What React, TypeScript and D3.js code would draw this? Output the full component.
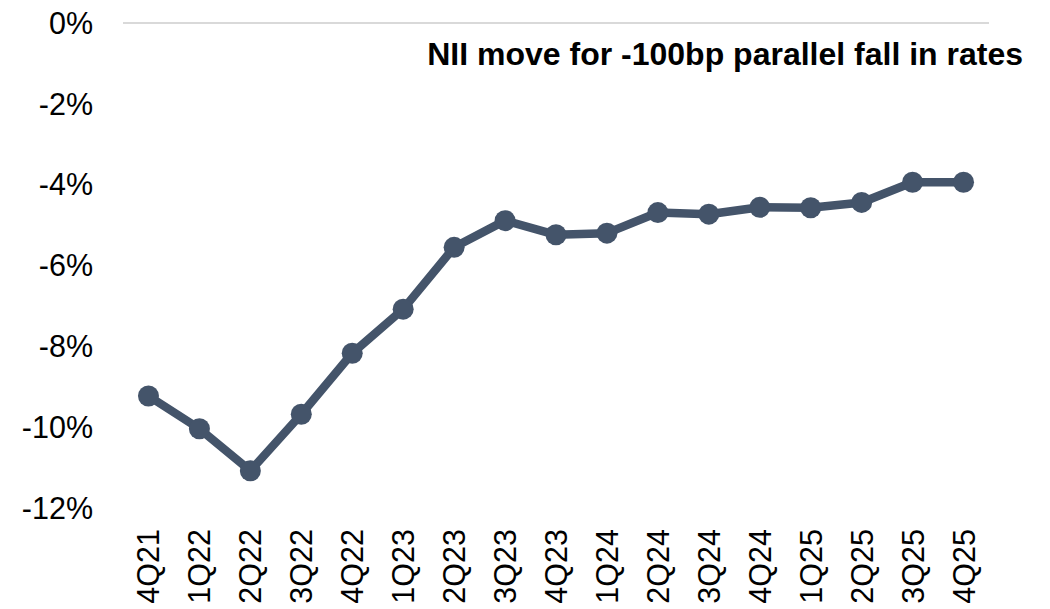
import React from "react";
import * as d3 from "d3";

const categories = ["4Q21","1Q22","2Q22","3Q22","4Q22","1Q23","2Q23","3Q23","4Q23","1Q24","2Q24","3Q24","4Q24","1Q25","2Q25","3Q25","4Q25"];
const niiMove = [-9.23,-10.04,-11.08,-9.68,-8.17,-7.08,-5.55,-4.89,-5.24,-5.20,-4.69,-4.73,-4.56,-4.57,-4.44,-3.94,-3.94];
const yTicks = [0,-2,-4,-6,-8,-10,-12];
const title = "NII move for -100bp parallel fall in rates";

const W = 1050, H = 609;
const left = 123, right = 989, top = 23, bottom = 508;
const color = "#44546A";
const font = "'Liberation Sans', Arial, sans-serif";

export default function App() {
  const x = d3.scaleBand<string>().domain(categories).range([left, right]);
  const y = d3.scaleLinear().domain([-12, 0]).range([bottom, top]);
  const cx = (c: string) => (x(c) as number) + x.bandwidth() / 2;
  const line = d3.line<number>().x((_, i) => cx(categories[i])).y((d) => y(d));

  return (
    <svg width={W} height={H} style={{ position: "absolute", left: 0, top: 0 }} fontFamily={font}>
      <line x1={left} x2={right} y1={y(0)} y2={y(0)} stroke="#D9D9D9" strokeWidth={2} />
      {yTicks.map((t) => (
        <text key={t} x={93} y={y(t)} dy="0.35em" textAnchor="end" fontSize={30.5} fill="#000">
          {t}%
        </text>
      ))}
      {categories.map((c) => (
        <text key={c} transform={`translate(${cx(c) + 11},${529}) rotate(-90)`} textAnchor="end" fontSize={30.5} fill="#000">
          {c}
        </text>
      ))}
      <path d={line(niiMove) || ""} fill="none" stroke={color} strokeWidth={8.5} strokeLinejoin="round" />
      {niiMove.map((v, i) => (
        <circle key={i} cx={cx(categories[i])} cy={y(v)} r={10.5} fill={color} />
      ))}
      <text x={1023} y={65} textAnchor="end" fontSize={32} fontWeight="bold" fill="#000">
        {title}
      </text>
    </svg>
  );
}
